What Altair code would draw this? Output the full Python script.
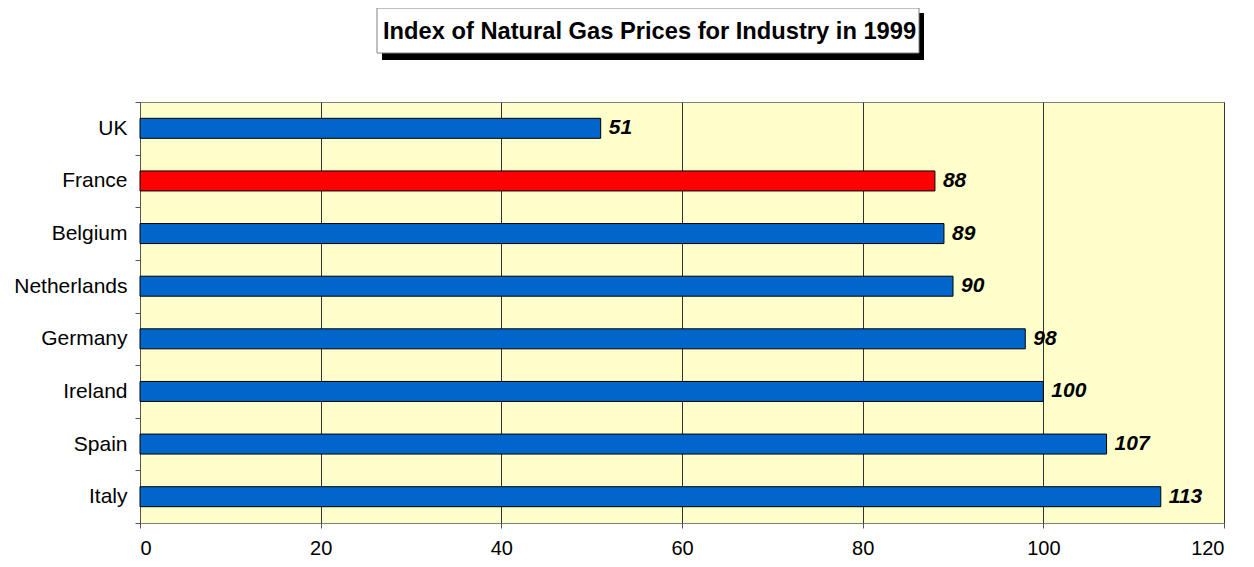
import altair as alt
import pandas as pd

countries = ["UK", "France", "Belgium", "Netherlands", "Germany", "Ireland", "Spain", "Italy"]
values = [51, 88, 89, 90, 98, 100, 107, 113]
colors = ["#0066CC", "#FF0000", "#0066CC", "#0066CC", "#0066CC", "#0066CC", "#0066CC", "#0066CC"]
x_ticks = [0, 20, 40, 60, 80, 100, 120]
title_text = "Index of Natural Gas Prices for Industry in 1999"

df = pd.DataFrame({"country": countries, "value": values, "color": colors})
FONT = "Liberation Sans"

y_enc = alt.Y("country:N", sort=countries, title=None,
              scale=alt.Scale(paddingInner=0, paddingOuter=0),
              axis=alt.Axis(tickBand="extent", tickSize=5, labelPadding=8,
                            labelFontSize=21, labelFont=FONT, labelColor="#000000",
                            domainColor="#555555", tickColor="#555555", grid=False))
x_enc = alt.X("value:Q", title=None,
              scale=alt.Scale(domain=[0, 120], nice=False),
              axis=alt.Axis(values=x_ticks, tickSize=5, labelPadding=10,
                            labelFontSize=20, labelFont=FONT, labelColor="#000000",
                            grid=True, gridColor="#333333", gridWidth=1,
                            domain=False, tickColor="#555555"))

bars = alt.Chart(df).mark_bar(size=20, stroke="#000000", strokeWidth=1).encode(
    y=y_enc, x=x_enc, color=alt.Color("color:N", scale=None)
)
labels = alt.Chart(df).mark_text(align="left", baseline="middle", dx=8,
                                 fontSize=21, fontWeight="bold", fontStyle="italic",
                                 font=FONT, color="#000000").encode(
    y=alt.Y("country:N", sort=countries), x="value:Q", text="value:Q"
)

tdf = pd.DataFrame({"t": [title_text]})
shadow = alt.Chart(tdf).mark_rect(color="#000000").encode(
    x=alt.value(242), x2=alt.value(784), y=alt.value(-89), y2=alt.value(-42)
)
box = alt.Chart(tdf).mark_rect(fill="#FFFFFF", stroke="#808080", strokeWidth=1).encode(
    x=alt.value(237), x2=alt.value(779), y=alt.value(-94), y2=alt.value(-49)
)
title = alt.Chart(tdf).mark_text(align="left", baseline="alphabetic", fontSize=23.7,
                                 fontWeight="bold", font=FONT, color="#000000").encode(
    x=alt.value(243), y=alt.value(-63), text="t:N"
)

chart = alt.layer(bars, labels, shadow, box, title).properties(
    width=1084, height=421,
    autosize=alt.AutoSizeParams(type="none"),
    padding={"left": 132, "top": 94, "right": 22, "bottom": 36},
    background="#FFFFFF",
).configure_view(fill="#FFFFCC", stroke="#808080", strokeWidth=1)

chart.save("out.html", embed_options={"renderer": "svg", "actions": False})
